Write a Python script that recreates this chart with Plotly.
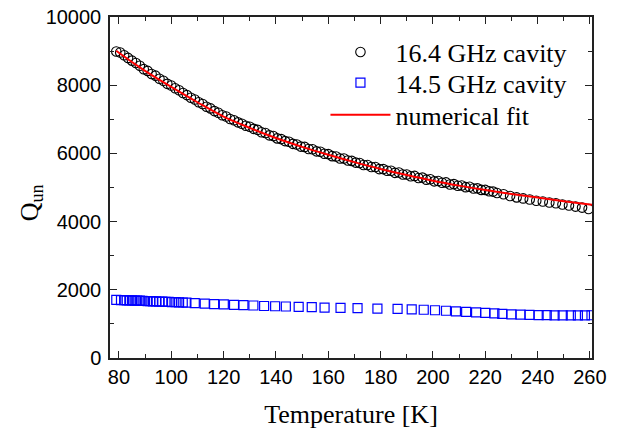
import plotly.graph_objects as go

# 16.4 GHz cavity (open circles)
t_164 = [79, 80.5, 82, 83.5, 85, 86.5, 88, 89.5, 91, 92.5, 94, 95.5, 97, 98.5, 100,
         101.5, 103, 104.5, 106, 107.5, 109, 110.5, 112, 113.5, 115, 116.5, 118, 119.5,
         121, 122.5, 124, 125.5, 127, 128.5, 130, 131.5, 133, 134.5, 136, 137.5, 139,
         140.5, 142, 143.5, 145, 146.5, 148, 149.5, 151, 152.5, 154, 155.5, 157, 158.5,
         160, 161.5, 163, 164.5, 166, 167.5, 169, 170.5, 172, 173.5, 175, 176.5, 178,
         179.5, 181, 182.5, 184, 185.5, 187, 188.5, 190, 191.5, 193, 194.5, 196, 197.5,
         199, 200.5, 202, 203.5, 205, 206.5, 208, 209.5, 211, 212.5, 214, 215.5, 217,
         218.5, 220, 221.5, 223, 224.5, 227, 229.5, 232, 234.5, 237, 239.5, 242, 244.5,
         247, 249.5, 252, 254.5, 257, 259.5]
q_164 = [8990, 8960, 8880, 8800, 8720, 8650, 8570, 8470, 8420, 8330, 8280, 8190, 8130, 8040, 7990,
         7910, 7850, 7770, 7710, 7630, 7580, 7500, 7450, 7370, 7320, 7240, 7190, 7120,
         7080, 7010, 6970, 6910, 6870, 6810, 6780, 6720, 6690, 6620, 6600, 6530, 6510,
         6440, 6420, 6360, 6340, 6280, 6260, 6200, 6190, 6130, 6120, 6060, 6050, 5990,
         5980, 5920, 5910, 5850, 5850, 5790, 5780, 5730, 5720, 5660, 5660, 5600, 5600,
         5540, 5540, 5490, 5490, 5430, 5440, 5380, 5380, 5330, 5340, 5280, 5290, 5230,
         5240, 5180, 5190, 5140, 5150, 5090, 5100, 5050, 5060, 5010, 5020, 4970, 4975,
         4930, 4930, 4890, 4880, 4840, 4800, 4750, 4710, 4680, 4650, 4610, 4590, 4560,
         4540, 4500, 4470, 4440, 4410, 4370]

# 14.5 GHz cavity (open squares)
t_145 = [79, 80.8, 82, 83, 84, 85, 86, 87, 88, 89, 90, 91, 92, 93, 94.2, 95.4, 96.6,
         97.8, 99, 100.3, 101.7, 103, 104.4, 105.8, 109, 112.8, 116.4, 120.1, 124, 127.6,
         131.4, 135.5, 139.7, 143.8, 148.7, 153.7, 158.6, 164.7, 171.2, 178.8, 186.5,
         191.9, 196.5, 200.8, 205, 208.8, 212.7, 216.5, 220, 223.5, 226.5, 230, 233.5,
         236.9, 240.4, 243.5, 246.5, 249.6, 252.7, 255.4, 258.1, 260.6]
q_145 = [1705, 1700, 1695, 1692, 1690, 1688, 1685, 1682, 1680, 1676, 1672, 1668, 1665,
         1662, 1658, 1655, 1651, 1648, 1645, 1640, 1636, 1632, 1628, 1624, 1610, 1595,
         1582, 1570, 1560, 1550, 1540, 1525, 1518, 1510, 1500, 1490, 1480, 1470, 1460,
         1450, 1440, 1428, 1415, 1400, 1385, 1370, 1352, 1340, 1322, 1308, 1292, 1280,
         1270, 1264, 1258, 1255, 1252, 1250, 1250, 1250, 1252, 1254]

# numerical fit
t_fit = [79, 80, 90, 100, 110, 120, 130, 140, 150, 160, 170, 180, 190, 200, 210, 220,
         230, 240, 250, 260, 261]
q_fit = [9010, 8950, 8420, 7950, 7500, 7080, 6750, 6450, 6190, 5960, 5745, 5545, 5365,
         5200, 5055, 4925, 4810, 4705, 4600, 4500, 4490]

x_ticks = [80, 100, 120, 140, 160, 180, 200, 220, 240, 260]
y_ticks = [0, 2000, 4000, 6000, 8000, 10000]
y_tick_text = ["0", "2000", "4000", "6000", "8000", "10000"]

serif = "Liberation Serif"
sans = "Liberation Sans"

fig = go.Figure()
fig.add_trace(go.Scatter(x=t_164, y=q_164, mode="markers", name="16.4 GHz cavity",
                         legend="legend",
                         marker=dict(symbol="circle-open", size=9.5, color="black",
                                     line=dict(width=1.1, color="black"))))
fig.add_trace(go.Scatter(x=t_145, y=q_145, mode="markers", name="14.5 GHz cavity",
                         legend="legend2",
                         marker=dict(symbol="square-open", size=9, color="#0000ff",
                                     line=dict(width=1.2, color="#0000ff"))))
fig.add_trace(go.Scatter(x=t_fit, y=q_fit, mode="lines", name="numerical fit",
                         legend="legend3",
                         line=dict(color="#ff0000", width=2, shape="spline")))

axis_common = dict(showline=True, linecolor="#222", linewidth=1.5, mirror="allticks",
                   ticks="inside", ticklen=7, tickwidth=1.3, tickcolor="#222",
                   showgrid=False, zeroline=False, automargin=False,
                   ticklabeloverflow="allow",
                   tickfont=dict(family=sans, size=20, color="black"))

fig.update_xaxes(range=[76.6, 260.8], tickvals=x_ticks,
                 minor=dict(dtick=10, tick0=0, ticks="inside", ticklen=4, tickcolor="#222", tickwidth=1.2),
                 title=dict(text="Temperature [K]", font=dict(family=serif, size=26, color="black"),
                            standoff=18),
                 **axis_common)
fig.update_yaxes(range=[0, 10000], tickvals=y_ticks, ticktext=y_tick_text,
                 ticklabelstandoff=3,
                 minor=dict(dtick=1000, tick0=0, ticks="inside", ticklen=4, tickcolor="#222", tickwidth=1.2),
                 **axis_common)

fig.add_annotation(text="Q<sub>un</sub>", xref="paper", yref="paper", x=-0.165, y=0.455,
                   textangle=-90, showarrow=False, xanchor="center", yanchor="middle",
                   font=dict(family=serif, size=26, color="black"))

leg_common = dict(x=0.447, xanchor="left", yanchor="middle", bgcolor="rgba(0,0,0,0)",
                  itemwidth=60, font=dict(family=serif, size=26, color="black"))

# The page body has an 8 px default margin; margins below compensate for it.
fig.update_layout(width=617, height=429,
                  margin=dict(l=102, r=33, t=9, b=79, autoexpand=False),
                  paper_bgcolor="white", plot_bgcolor="white", showlegend=True,
                  legend=dict(y=0.897, **leg_common),
                  legend2=dict(y=0.807, **leg_common),
                  legend3=dict(y=0.713, **leg_common))

fig.write_html("out.html")
